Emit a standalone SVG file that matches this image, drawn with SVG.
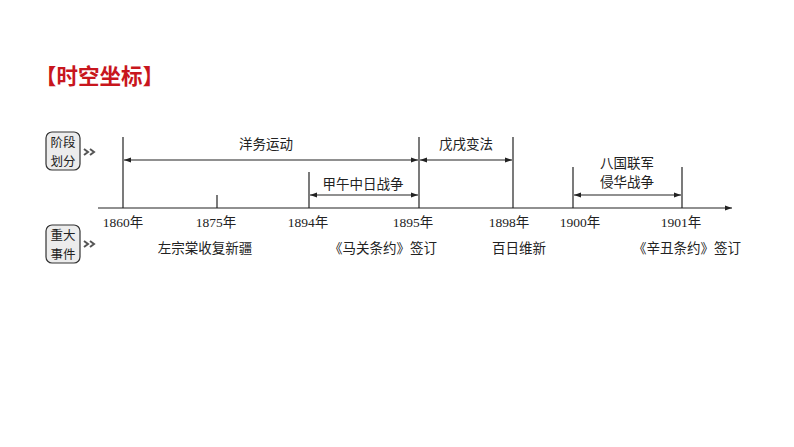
<svg xmlns="http://www.w3.org/2000/svg" width="794" height="447" viewBox="0 0 794 447">
<defs>
<marker id="ah" viewBox="0 0 10 10" refX="10" refY="5" markerWidth="7" markerHeight="7" orient="auto-start-reverse" markerUnits="userSpaceOnUse">
<path d="M0,1.5 L10,5 L0,8.5 Z" fill="#222"/>
</marker>
<g id="chev">
<polyline points="0,0 4,3 0,6" fill="none" stroke="#555" stroke-width="2"/>
<polyline points="6,0 10,3 6,6" fill="none" stroke="#555" stroke-width="2"/>
</g>
</defs>
<style>
.ln{stroke:#222;stroke-width:1.2;fill:none}
.t{font-family:"Liberation Serif","Noto Sans CJK SC",serif;font-size:13.5px;fill:#222;text-anchor:middle}
.ev{font-family:"Liberation Serif","Noto Sans CJK SC",serif;font-size:13.5px;fill:#222;text-anchor:middle}
.box{fill:#ececec;stroke:#333;stroke-width:1.2}
.bt{font-family:"Noto Sans CJK SC",sans-serif;font-size:12.5px;fill:#222;text-anchor:middle}
</style>
<rect width="794" height="447" fill="#fff"/>
<text x="35" y="84" font-family="Noto Sans CJK SC,sans-serif" font-size="21.5" font-weight="bold" fill="#c8161d">【时空坐标】</text>

<g id="legend-stage">
<rect class="box" x="46" y="132" width="34" height="38" rx="6"/>
<text class="bt" x="63" y="147">阶段</text>
<text class="bt" x="63" y="166">划分</text>
<use href="#chev" x="84" y="149"/>
</g>
<g id="legend-event">
<rect class="box" x="46" y="225" width="34" height="38" rx="6"/>
<text class="bt" x="63" y="240">重大</text>
<text class="bt" x="63" y="259">事件</text>
<use href="#chev" x="84" y="241"/>
</g>

<g id="connectors">
<line class="ln" x1="98" y1="208" x2="732" y2="208" marker-end="url(#ah)"/>
<line class="ln" x1="123" y1="137" x2="123" y2="208"/>
<line class="ln" x1="217" y1="195" x2="217" y2="208"/>
<line class="ln" x1="309" y1="172" x2="309" y2="208"/>
<line class="ln" x1="419" y1="137" x2="419" y2="208"/>
<line class="ln" x1="513" y1="137" x2="513" y2="208"/>
<line class="ln" x1="573" y1="167" x2="573" y2="208"/>
<line class="ln" x1="682" y1="167" x2="682" y2="208"/>
<line class="ln" x1="124" y1="160" x2="418" y2="160" marker-start="url(#ah)" marker-end="url(#ah)"/>
<line class="ln" x1="420" y1="160" x2="512" y2="160" marker-start="url(#ah)" marker-end="url(#ah)"/>
<line class="ln" x1="310" y1="195" x2="418" y2="195" marker-start="url(#ah)" marker-end="url(#ah)"/>
<line class="ln" x1="574" y1="195" x2="681" y2="195" marker-start="url(#ah)" marker-end="url(#ah)"/>
</g>

<g id="stages">
<text class="t" x="266" y="149">洋务运动</text>
<text class="t" x="466" y="149">戊戌变法</text>
<text class="t" x="363" y="189">甲午中日战争</text>
<text class="t" x="627" y="168">八国联军</text>
<text class="t" x="627" y="187">侵华战争</text>
</g>

<g id="years">
<text class="t" x="123" y="227">1860年</text>
<text class="t" x="216" y="227">1875年</text>
<text class="t" x="308" y="227">1894年</text>
<text class="t" x="413" y="227">1895年</text>
<text class="t" x="509" y="227">1898年</text>
<text class="t" x="580" y="227">1900年</text>
<text class="t" x="681" y="227">1901年</text>
</g>

<g id="events">
<text class="ev" x="205" y="253">左宗棠收复新疆</text>
<text class="ev" x="383" y="253">《马关条约》签订</text>
<text class="ev" x="519" y="253">百日维新</text>
<text class="ev" x="687" y="253">《辛丑条约》签订</text>
</g>
</svg>
